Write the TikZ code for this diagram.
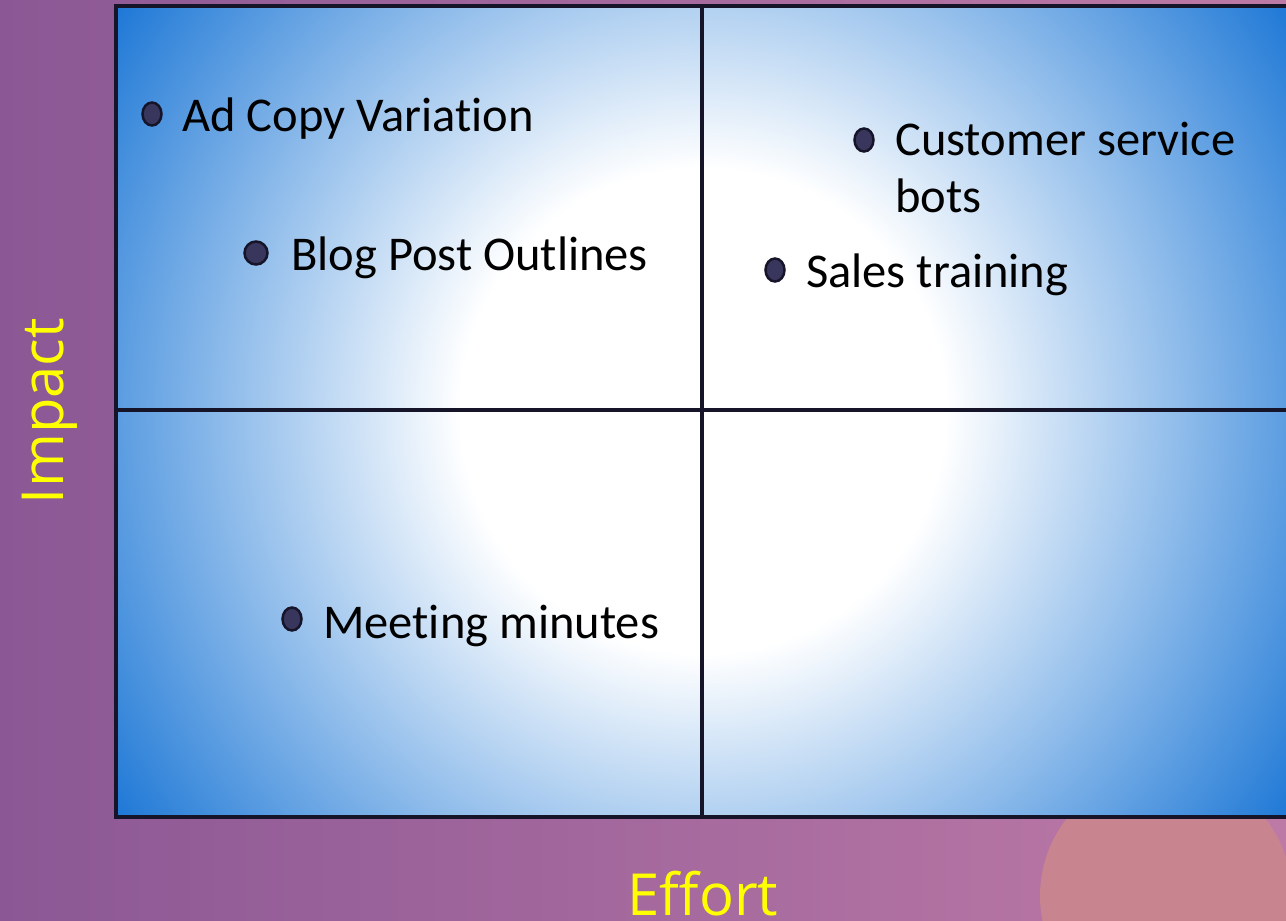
\documentclass[tikz,border=0pt]{standalone}
\usepackage{fontspec}
\setmainfont{Carlito}[Ligatures=NoCommon]
\newfontfamily\axisfont{Open Sans}
\usetikzlibrary{shapes.geometric,calc}

\definecolor{bgleft}{RGB}{139,88,149}
\definecolor{bgright}{RGB}{190,122,166}
\definecolor{blobpink}{RGB}{200,132,143}
\definecolor{quadblue}{RGB}{30,120,214}
\definecolor{gridnavy}{RGB}{22,20,40}
\definecolor{dotfill}{RGB}{56,54,92}
\definecolor{axisyellow}{RGB}{255,255,0}

\pgfdeclareradialshading{quadglow}{\pgfpoint{0bp}{0bp}}{color(0bp)=(white); color(8.5bp)=(white); color(25bp)=(quadblue); color(50bp)=(quadblue)}

\tikzset{
	item/.style={anchor=base west, inner sep=0pt, font=\fontsize{48.5}{57}\selectfont, text=black},
	dot/.style={ellipse, fill=dotfill, draw=gridnavy, line width=2.5pt, inner sep=0pt, minimum width=19pt, minimum height=23pt},
	axislabel/.style={inner sep=0pt, font=\axisfont\fontsize{58}{64}\selectfont, text=axisyellow},
	gridline/.style={draw=gridnavy, line width=4pt}
}

\begin{document}
\begin{tikzpicture}[x=1pt,y=1pt,yscale=-1,xscale=1]
	\useasboundingbox (0,0) rectangle (1286,921);
	
	%Background
	\shade [left color=bgleft, right color=bgright] (0,0) rectangle (1286,921);
	%Shape: Circle
	\fill [blobpink] (1166,896) circle (126);
	
	%Shape: Rectangle (quadrants)
	\fill [quadblue] (116,6) rectangle (1296,817);
	\begin{scope}
		\clip (116,6) rectangle (1296,817);
		\shade [shading=quadglow] (703,411) circle (713);
	\end{scope}
	\draw [gridline] (116,6) rectangle (1296,817);
	
	%Straight Lines
	\draw [gridline] (702,6) -- (702,817);
	\draw [gridline] (116,410) -- (1296,410);
	
	% Text Node
	\node [item] (adcopy) at (182,131) {Ad Copy Variation};
	\node [item] (blogpost) at (291,270) {Blog Post Outlines};
	\node [item, align=left] (custbots) at (895,212) {Customer service\\bots};
	\node [item] (salestrain) at (806,287) {Sales training};
	\node [item] (meetmin) at (323,638) {Meeting minutes};
	
	%Shape: Bullets
	\node [dot] (adcopydot) at ($(adcopy.base west)+(-30,-17)$) {};
	\node [dot, minimum width=23pt, minimum height=23pt] (blogpostdot) at ($(blogpost.base west)+(-35,-17)$) {};
	\node [dot] (custbotsdot) at ($(custbots.base west)+(-31,-72)$) {};
	\node [dot] (salestraindot) at ($(salestrain.base west)+(-31,-17)$) {};
	\node [dot] (meetmindot) at ($(meetmin.base west)+(-31,-19)$) {};
	
	% Text Node
	\node [axislabel, rotate=90, anchor=base] (impact) at (63,411) {Impact};
	% Text Node
	\node [axislabel, anchor=base] (effort) at (703,915) {Effort};
\end{tikzpicture}
\end{document}
